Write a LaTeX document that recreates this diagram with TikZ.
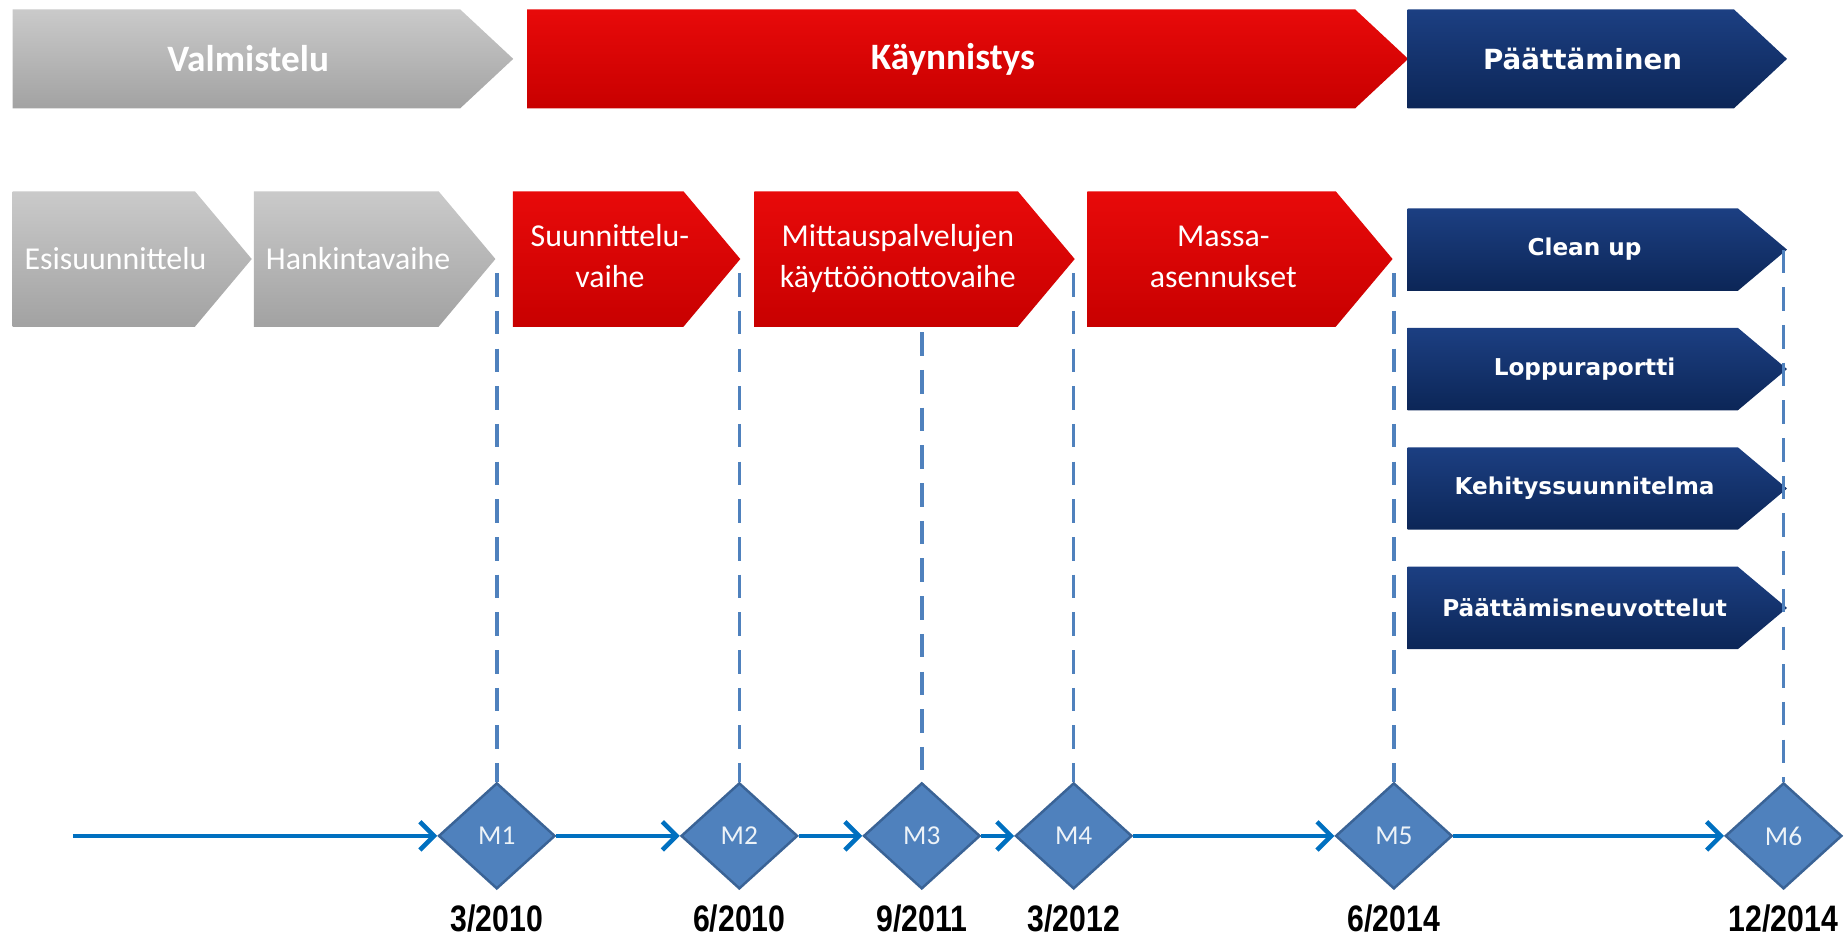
\documentclass[tikz,border=0pt]{standalone}
\usepackage{fontspec}
\setmainfont{Carlito}
\newfontfamily\bluefont{DejaVu Sans}
\newfontfamily\datefont[FakeStretch=0.82]{Liberation Sans}
\usepackage{tikz}
\usetikzlibrary{positioning, arrows.meta, shapes.geometric, shapes.symbols}

\definecolor{grayhi}{HTML}{CACACA}
\definecolor{graylo}{HTML}{A2A2A2}
\definecolor{redhi}{HTML}{E80A0A}
\definecolor{redlo}{HTML}{C80000}
\definecolor{bluehi}{HTML}{1C3F82}
\definecolor{bluelo}{HTML}{0C2657}
\definecolor{stone}{HTML}{4F81BD}
\definecolor{stoneline}{HTML}{3A6396}
\definecolor{timeline}{HTML}{0070C0}

% two lines in one phase box
\newcommand{\twoline}[2]{\begin{tabular}{@{}c@{}}#1\\#2\end{tabular}}

\begin{document}
\begin{tikzpicture}[
    x=0.01cm,
    y=-0.01cm,
    phase/.style={
        signal,
        signal to=east,
        inner sep=0pt,
        anchor=west,
        text=white,
        execute at begin node=\hskip0.1cm,
        execute at end node=\hskip-0.1cm
    },
    grayphase/.style={phase, top color=grayhi, bottom color=graylo},
    redphase/.style={phase, top color=redhi, bottom color=redlo},
    bluephase/.style={phase, top color=bluehi, bottom color=bluelo},
    mainrow/.style={
        minimum height=0.84cm,
        signal pointer angle=86,
        font=\bfseries\fontsize{9}{10}\selectfont
    },
    subrow/.style={
        minimum height=1.15cm,
        signal pointer angle=100,
        font=\fontsize{7.7}{10}\selectfont
    },
    endrow/.style={
        minimum width=3.22cm,
        minimum height=0.7cm,
        signal pointer angle=80,
        font=\bluefont\bfseries\fontsize{5.6}{7}\selectfont
    },
    mstone/.style={
        diamond,
        fill=stone,
        draw=stoneline,
        line width=0.6pt,
        inner sep=0pt,
        minimum width=0.99cm,
        minimum height=0.9cm,
        text=white!90!stone,
        font=\fontsize{6.6}{8}\selectfont
    },
    date/.style={
        inner sep=0pt,
        font=\datefont\bfseries\fontsize{8.9}{10}\selectfont
    },
    guide/.style={
        draw=stone,
        line width=0.85pt,
        dash pattern=on 0.2cm off 0.12cm
    },
    flow/.style={
        draw=timeline,
        line width=1.1pt,
        -{Straight Barb[length=1.2mm, width=2.4mm]}
    }
]
\useasboundingbox (0,0) rectangle (1568,796);

% Phases

\node[grayphase, mainrow, minimum width=4.25cm] (valm) at (10,50) {Valmistelu};
\node[redphase, mainrow, minimum width=7.48cm] (kayn) at (447,50) {K\"aynnistys};

% Sub phases

\node[grayphase, subrow, minimum width=2.03cm] (esis) at (10,220) {Esisuunnittelu};
\node[grayphase, subrow, minimum width=2.05cm] (hank) at (215,220) {Hankintavaihe};
\node[redphase, subrow, minimum width=1.93cm] (suun) at (435,220) {\twoline{Suunnittelu-}{vaihe}};
\node[redphase, subrow, minimum width=2.72cm] (mitt) at (640,220) {\twoline{Mittauspalvelujen}{k\"aytt\"o\"onottovaihe}};
\node[redphase, subrow, minimum width=2.59cm] (mass) at (923,220) {\twoline{Massa-}{asennukset}};

% Milestones

\coordinate (start) at (62,710);
\node[mstone] (m1) at (422,710) {M1};
\node[mstone] (m2) at (628,710) {M2};
\node[mstone] (m3) at (783,710) {M3};
\node[mstone] (m4) at (912,710) {M4};
\node[mstone] (m5) at (1184,710) {M5};
\node[mstone] (m6) at (1515,710) {M6};

\node[date, below=0.12cm of m1] (d1) {3/2010};
\node[date, below=0.12cm of m2] (d2) {6/2010};
\node[date, below=0.12cm of m3] (d3) {9/2011};
\node[date, below=0.12cm of m4] (d4) {3/2012};
\node[date, below=0.12cm of m5] (d5) {6/2014};
\node[date, below=0.12cm of m6] (d6) {12/2014};

% Closing

\node[bluephase, endrow] (clean) at (1195,212) {Clean up};
\node[bluephase, endrow, below=0.3cm of clean.south west, anchor=north west] (lopp) {Loppuraportti};
\node[bluephase, endrow, below=0.3cm of lopp.south west, anchor=north west] (kehi) {Kehityssuunnitelma};
\node[bluephase, endrow, below=0.3cm of kehi.south west, anchor=north west] (neuv) {P\"a\"att\"amisneuvottelut};

% Dashed guides

\draw[guide] ([yshift=-0.12cm]m1 |- hank.east) -- (m1.north);
\draw[guide] ([yshift=-0.12cm]m2 |- suun.east) -- (m2.north);
\draw[guide] ([yshift=-0.04cm]m3 |- mitt.south) -- (m3.north);
\draw[guide] ([yshift=-0.12cm]m4 |- mitt.east) -- (m4.north);
\draw[guide] ([yshift=-0.12cm]m5 |- mass.east) -- (m5.north);
\draw[guide] (m6 |- clean.east) -- (m6.north);

% Top row end piece

\node[bluephase, mainrow, minimum width=3.22cm, font=\bluefont\bfseries\fontsize{6.7}{8}\selectfont] (paat) at (1195,50) {P\"a\"att\"aminen};

% Arrows

\draw[flow] (start)--(m1);
\draw[flow] (m1)--(m2);
\draw[flow] (m2)--(m3);
\draw[flow] (m3)--(m4);
\draw[flow] (m4)--(m5);
\draw[flow] (m5)--(m6);

\end{tikzpicture}
\end{document}
